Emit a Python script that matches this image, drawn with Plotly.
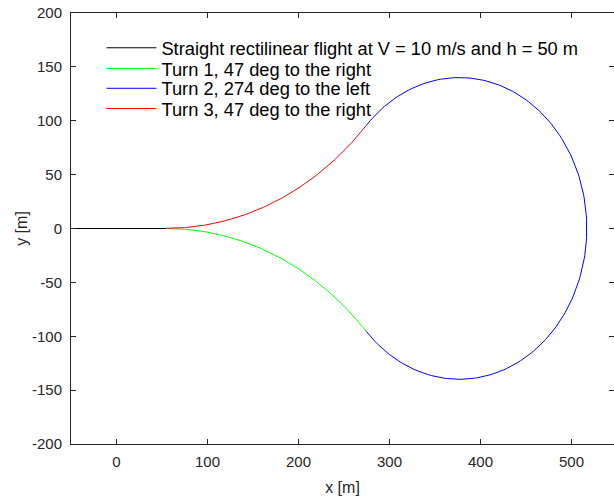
import numpy as np
import plotly.graph_objects as go

# Flight path: straight leg followed by three constant-radius turns
straight_name = "Straight rectilinear flight at V = 10 m/s and h = 50 m"
straight_x = [-50.0, 55.0]
straight_y = [0.0, 0.0]

turn_names = [
    "Turn 1, 47 deg to the right",
    "Turn 2, 274 deg to the left",
    "Turn 3, 47 deg to the right",
]
turn_angles_deg = [47.0, 274.0, 47.0]
turn_directions = [-1, 1, -1]          # -1 = right (clockwise), +1 = left
turn_radii_m = [300.0, 140.0, 300.0]
turn_colors = ["#00ff00", "#0000ff", "#ff0000"]

x_ticks = [0, 100, 200, 300, 400, 500]
x_tick_labels = ["0", "100", "200", "300", "400", "500"]
y_ticks = [-200, -150, -100, -50, 0, 50, 100, 150, 200]
y_tick_labels = ["-200", "-150", "-100", "-50", "0", "50", "100", "150", "200"]


def arc(x0, y0, heading, radius, angle_deg, direction, n=200):
    """Points along a circular turn starting at (x0, y0) with given heading."""
    # centre lies perpendicular to the heading, on the turning side
    cx = x0 - direction * radius * np.sin(heading)
    cy = y0 + direction * radius * np.cos(heading)
    dpsi = np.linspace(0.0, direction * np.radians(angle_deg), n)
    psi = heading + dpsi
    xs = cx + direction * radius * np.sin(psi)
    ys = cy - direction * radius * np.cos(psi)
    return xs, ys, psi[-1]


# one legend box per entry so the rows can sit close together
legend_ids = ["legend", "legend2", "legend3", "legend4"]
legend_tops = [0.962, 0.914, 0.868, 0.821]

fig = go.Figure()
fig.add_trace(go.Scatter(
    x=straight_x, y=straight_y, mode="lines",
    line=dict(color="#000000", width=1),
    name=straight_name, legend=legend_ids[0],
))

x_cur, y_cur, heading = straight_x[-1], straight_y[-1], 0.0
for i, (name, ang, d, r, c) in enumerate(zip(turn_names, turn_angles_deg,
                                             turn_directions, turn_radii_m,
                                             turn_colors)):
    xs, ys, heading = arc(x_cur, y_cur, heading, r, ang, d)
    fig.add_trace(go.Scatter(x=xs, y=ys, mode="lines",
                             line=dict(color=c, width=1), name=name,
                             legend=legend_ids[i + 1]))
    x_cur, y_cur = xs[-1], ys[-1]

axis_color = "#262626"
font_family = "Liberation Sans, Arial, sans-serif"

legend_style = dict(
    x=0.056, xanchor="left", yanchor="top",
    bgcolor="rgba(0,0,0,0)", borderwidth=0,
    font=dict(size=18.3, color="#000000", family=font_family),
    itemwidth=50,
)

fig.update_layout(
    width=614, height=501,
    margin=dict(l=71, r=0, t=13, b=57),
    paper_bgcolor="white", plot_bgcolor="white",
    font=dict(family=font_family, color=axis_color, size=15),
    showlegend=True,
    xaxis=dict(
        range=[-50, 546.7], tickvals=x_ticks, ticktext=x_tick_labels,
        ticks="inside", ticklen=5, tickcolor=axis_color,
        showline=True, linecolor=axis_color, linewidth=1, mirror="ticks",
        showgrid=False, zeroline=False,
        tickfont=dict(size=15), ticklabelstandoff=4,
        title=dict(text="x [m]", font=dict(size=16), standoff=12),
    ),
    yaxis=dict(
        range=[-200, 200], tickvals=y_ticks, ticktext=y_tick_labels,
        ticks="inside", ticklen=5, tickcolor=axis_color,
        showline=True, linecolor=axis_color, linewidth=1, mirror="ticks",
        showgrid=False, zeroline=False,
        tickfont=dict(size=15), ticklabelstandoff=5,
        title=dict(text="y [m]", font=dict(size=16), standoff=0),
    ),
)
for lid, top in zip(legend_ids, legend_tops):
    fig.update_layout({lid: dict(legend_style, y=top)})

fig.write_html("out.html")
